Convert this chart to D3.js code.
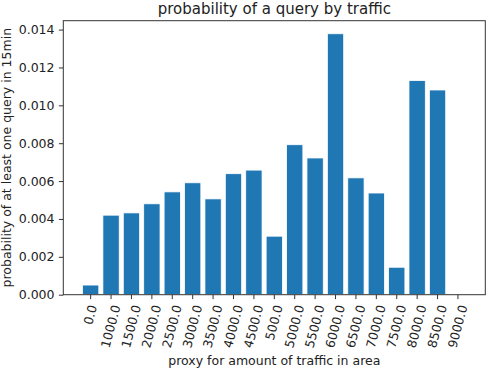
<!DOCTYPE html>
<html>
<head>
<meta charset="utf-8">
<script src="https://cdn.jsdelivr.net/npm/d3@7"></script>
<style>
  body { margin: 0; background: #fff; }
  text { font-family: "DejaVu Sans", sans-serif; fill: #222; }
</style>
</head>
<body>
<div id="chart"></div>
<script>
// categories as they appear on the x axis (string-sorted, so 500.0 sits after 4500.0)
var categories = ["0.0", "1000.0", "1500.0", "2000.0", "2500.0", "3000.0", "3500.0",
    "4000.0", "4500.0", "500.0", "5000.0", "5500.0", "6000.0", "6500.0", "7000.0",
    "7500.0", "8000.0", "8500.0", "9000.0"];
var probabilities = [0.00051, 0.0042, 0.00432, 0.0048, 0.00543, 0.00591, 0.00506,
    0.00639, 0.00658, 0.00309, 0.00792, 0.00722, 0.01378, 0.00617, 0.00537,
    0.00145, 0.01131, 0.01081, 0.0];
var yTicks = [0, 0.002, 0.004, 0.006, 0.008, 0.010, 0.012, 0.014];

var width = 486, height = 368;
var margin = { top: 20.7, right: 0.7, bottom: 73.3, left: 63.3 };
var innerW = width - margin.left - margin.right;
var innerH = height - margin.top - margin.bottom;
var fs = 12.5;      // tick / label font size
var tick = 4.4;     // tick length and padding

var svg = d3.select("#chart").append("svg")
    .attr("width", width).attr("height", height);

var g = svg.append("g")
    .attr("transform", "translate(" + margin.left + "," + margin.top + ")");

// band scale mimics matplotlib bar width 0.8 + 5% margins
var x = d3.scaleBand().domain(categories).range([0, innerW])
    .paddingInner(0.2).paddingOuter(0.94);
var y = d3.scaleLinear().domain([0, d3.max(probabilities) * 1.05]).range([innerH, 0]);

// bars
g.selectAll("rect.bar").data(probabilities).enter().append("rect")
    .attr("class", "bar")
    .attr("x", function(d, i) { return x(categories[i]); })
    .attr("width", x.bandwidth())
    .attr("y", function(d) { return y(d); })
    .attr("height", function(d) { return innerH - y(d); })
    .attr("fill", "#1f77b4")
    .attr("stroke", "#fff")
    .attr("stroke-width", 0.8);

// y axis
var yAxis = g.append("g")
    .call(d3.axisLeft(y).tickValues(yTicks).tickFormat(d3.format(".3f"))
        .tickSize(tick).tickPadding(tick));
yAxis.select(".domain").remove();
yAxis.selectAll("line").attr("stroke", "#333").attr("stroke-width", 1);
yAxis.selectAll("text").attr("font-size", fs).attr("font-family", "DejaVu Sans").style("fill", "#222");

// x axis ticks
var xAxis = g.append("g").attr("transform", "translate(0," + innerH + ")")
    .call(d3.axisBottom(x).tickSize(tick).tickPadding(tick));
xAxis.select(".domain").remove();
xAxis.selectAll("line").attr("stroke", "#333").attr("stroke-width", 1);

// rotated labels, bounding box centred under each tick like matplotlib
var deg = 75, rot = deg * Math.PI / 180;
xAxis.selectAll("text")
    .attr("font-size", fs).attr("font-family", "DejaVu Sans").style("fill", "#222")
    .attr("text-anchor", "middle")
    .attr("dy", "0.32em")
    .attr("y", 0)
    .attr("transform", function() {
        var L = this.getComputedTextLength();
        var h = fs * 1.164;
        var bh = L * Math.sin(rot) + h * Math.cos(rot);
        return "translate(0," + (2 * tick + bh / 2) + ") rotate(" + (-deg) + ")";
    });

// frame
g.append("rect")
    .attr("width", innerW).attr("height", innerH)
    .attr("fill", "none").attr("stroke", "#333").attr("stroke-width", 1);

// title and axis labels
svg.append("text")
    .attr("x", margin.left + innerW / 2).attr("y", 13.5)
    .attr("text-anchor", "middle").attr("font-size", 15)
    .text("probability of a query by traffic");

svg.append("text")
    .attr("x", margin.left + innerW / 2).attr("y", 365)
    .attr("text-anchor", "middle").attr("font-size", fs)
    .text("proxy for amount of traffic in area");

svg.append("text")
    .attr("transform", "translate(11," + (margin.top + innerH / 2) + ") rotate(-90)")
    .attr("text-anchor", "middle").attr("font-size", fs)
    .text("probability of at least one query in 15min");
</script>
</body>
</html>
